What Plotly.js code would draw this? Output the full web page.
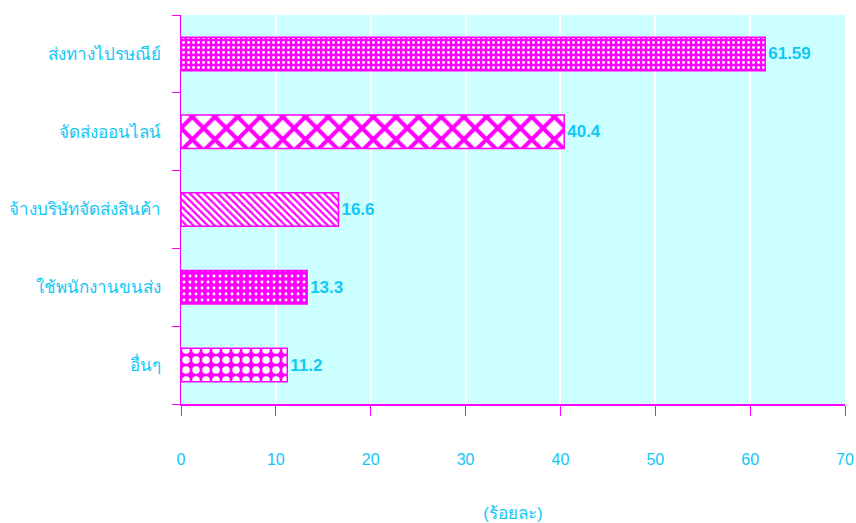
<!DOCTYPE html>
<html>
<head>
<meta charset="utf-8">
<script src="https://cdn.plot.ly/plotly-3.0.1.min.js"></script>
<style>
  html, body { margin: 0; padding: 0; background: #ffffff; }
  #chart { width: 856px; height: 523px; }
</style>
</head>
<body>
<div id="chart"></div>
<script>
// Delivery channels, in percent
const categories = [
  "ส่งทางไปรษณีย์",
  "จัดส่งออนไลน์",
  "จ้างบริษัทจัดส่งสินค้า",
  "ใช้พนักงานขนส่ง",
  "อื่นๆ"
];
const values = [61.59, 40.4, 16.6, 13.3, 11.2];
const valueLabels = ["61.59", "40.4", "16.6", "13.3", "11.2"];
const xTicks = [0, 10, 20, 30, 40, 50, 60, 70];
const axisTitle = "(ร้อยละ)";

const MAGENTA = "#FF00FF";
const WHITE = "#ffffff";
const TEXT = "#11C8F5";
const FONT = "Arial, 'Liberation Sans', 'Noto Sans', sans-serif";

// fill pattern for each bar
const patternShape = [".", "x", "\\", ".", "."];
const patternFg    = [WHITE, MAGENTA, MAGENTA, WHITE, WHITE];
const patternBg    = [MAGENTA, WHITE, WHITE, MAGENTA, MAGENTA];
const patternSize  = [5, 16, 5, 6, 10];
const patternSolid = [0.25, 0.45, 0.45, 0.18, 0.45];

// one trace per bar so every bar keeps its own fill pattern
const traces = categories.map((cat, i) => ({
  type: "bar",
  orientation: "h",
  y: [cat],
  x: [values[i]],
  text: [valueLabels[i]],
  textposition: "outside",
  cliponaxis: false,
  textfont: { family: FONT, size: 17, color: TEXT, weight: "bold" },
  width: 0.43,
  marker: {
    color: patternBg[i],
    line: { color: MAGENTA, width: 1.5 },
    pattern: {
      shape: patternShape[i],
      fgcolor: patternFg[i],
      bgcolor: patternBg[i],
      fgopacity: 1,
      size: patternSize[i],
      solidity: patternSolid[i],
      fillmode: "replace"
    }
  },
  hoverinfo: "skip"
}));

const layout = {
  width: 856,
  height: 523,
  margin: { l: 181, r: 11, t: 15, b: 119 },
  barmode: "overlay",
  paper_bgcolor: WHITE,
  plot_bgcolor: "#CCFFFF",
  showlegend: false,
  font: { family: FONT, size: 16, color: TEXT },
  xaxis: {
    range: [0, 70],
    tickvals: xTicks,
    ticktext: xTicks.map(String),
    showgrid: true,
    gridcolor: WHITE,
    gridwidth: 2,
    zeroline: false,
    showline: true,
    linecolor: MAGENTA,
    linewidth: 1.5,
    ticks: "outside",
    ticklen: 10,
    tickwidth: 1,
    tickcolor: MAGENTA,
    ticklabelstandoff: 30,
    tickfont: { family: FONT, size: 16, color: TEXT },
    title: {
      text: axisTitle,
      font: { family: FONT, size: 17, color: TEXT },
      standoff: 40
    }
  },
  yaxis: {
    type: "category",
    categoryorder: "array",
    categoryarray: categories.slice().reverse(),
    showgrid: false,
    zeroline: false,
    showline: true,
    linecolor: MAGENTA,
    linewidth: 1.5,
    ticks: "outside",
    tickson: "boundaries",
    ticklen: 8,
    tickwidth: 1,
    tickcolor: MAGENTA,
    ticklabelstandoff: 15,
    tickfont: { family: FONT, size: 17, color: TEXT }
  }
};

Plotly.newPlot("chart", traces, layout, { staticPlot: true, displayModeBar: false });
</script>
</body>
</html>
